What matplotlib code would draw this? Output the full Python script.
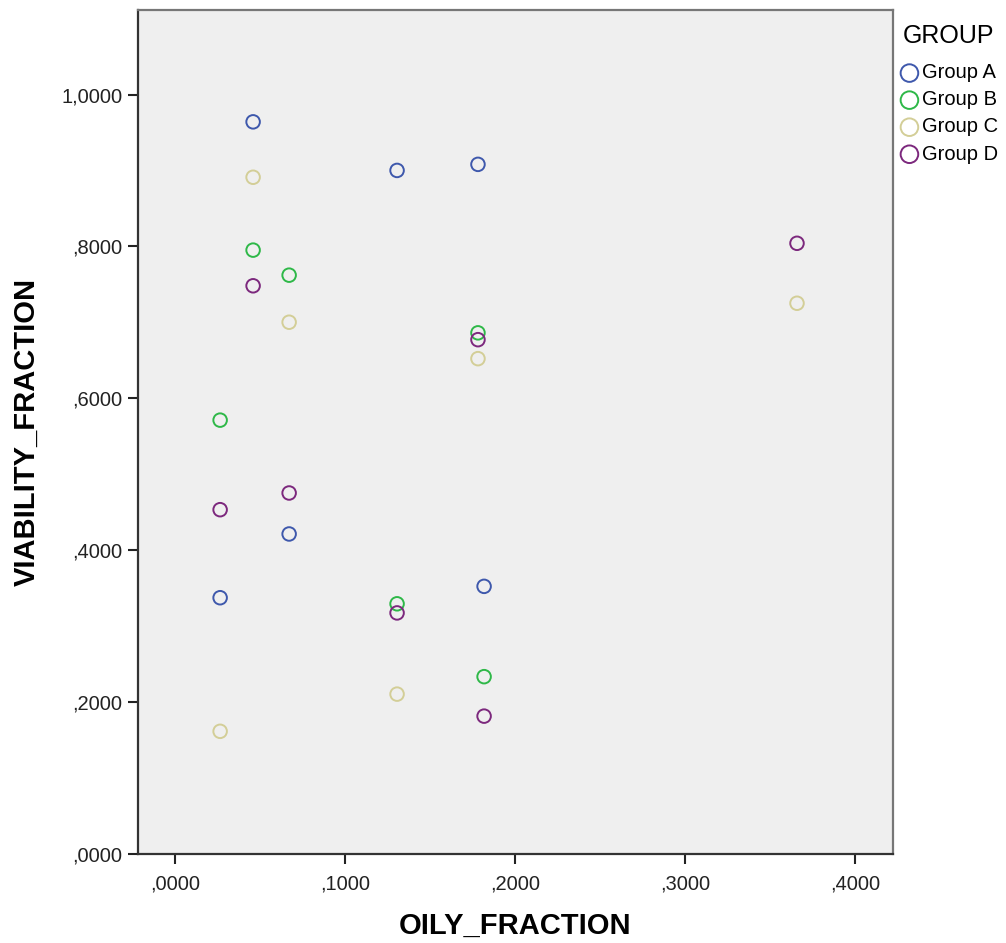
import matplotlib
matplotlib.use("Agg")
import matplotlib.pyplot as plt
from matplotlib.ticker import FuncFormatter

plt.rcParams['font.family'] = ['Liberation Sans', 'DejaVu Sans']

# data
groups = ["Group A", "Group B", "Group C", "Group D"]
colors = ["#3e58ac", "#2eb848", "#d3ce97", "#7c287d"]

a_x = [0.0265, 0.0459, 0.0671, 0.1306, 0.1782, 0.1818]
a_y = [0.337, 0.964, 0.421, 0.900, 0.908, 0.352]
b_x = [0.0265, 0.0459, 0.0671, 0.1306, 0.1782, 0.1818]
b_y = [0.571, 0.795, 0.762, 0.329, 0.686, 0.233]
c_x = [0.0265, 0.0459, 0.0671, 0.1306, 0.1782, 0.3659]
c_y = [0.161, 0.891, 0.700, 0.210, 0.652, 0.725]
d_x = [0.0265, 0.0459, 0.0671, 0.1306, 0.1782, 0.1818, 0.3659]
d_y = [0.453, 0.748, 0.475, 0.317, 0.677, 0.181, 0.804]

series = [(a_x, a_y), (b_x, b_y), (c_x, c_y), (d_x, d_y)]

x_ticks = [0.0, 0.1, 0.2, 0.3, 0.4]
y_ticks = [0.0, 0.2, 0.4, 0.6, 0.8, 1.0]


def comma_fmt(v, pos=None):
    s = f"{v:.4f}".replace(".", ",")
    if s.startswith("0,"):
        s = s[1:]
    return s


fig = plt.figure(figsize=(10.06, 9.43), dpi=100)
ax = fig.add_axes([0.1367, 0.0949, 0.7505, 0.895])
ax.set_facecolor("#efefef")

handles = []
for (xs, ys), col, name in zip(series, colors, groups):
    h = ax.scatter(xs, ys, s=95, facecolors="none", edgecolors=col,
                   linewidths=1.4, label=name, zorder=3)
    handles.append(h)

ax.set_xlim(-0.0221, 0.4221)
ax.set_ylim(0, 1.112)
ax.set_xticks(x_ticks)
ax.set_yticks(y_ticks)
ax.xaxis.set_major_formatter(FuncFormatter(comma_fmt))
ax.yaxis.set_major_formatter(FuncFormatter(comma_fmt))
ax.tick_params(axis="both", direction="out", length=7, width=1.5,
               labelsize=14.5, colors="#222222")
ax.tick_params(axis="x", pad=8)
ax.tick_params(axis="y", pad=4)

for side in ["left", "bottom"]:
    ax.spines[side].set_color("#333333")
    ax.spines[side].set_linewidth(1.6)
for side in ["top", "right"]:
    ax.spines[side].set_color("#777777")
    ax.spines[side].set_linewidth(1.6)

ax.set_xlabel("OILY_FRACTION", fontsize=21, fontweight="bold", labelpad=13)
ax.set_ylabel("VIABILITY_FRACTION", fontsize=21, fontweight="bold", labelpad=15)

leg = fig.legend(handles=handles, labels=groups, loc="upper left",
                 bbox_to_anchor=(0.885, 0.983), frameon=False,
                 title="GROUP", title_fontsize=18, fontsize=14.5,
                 handletextpad=0.05, labelspacing=0.4, markerscale=1.3,
                 borderaxespad=0, handlelength=1.1)
leg._legend_box.sep = 11

fig.savefig("out.png", dpi=100)
